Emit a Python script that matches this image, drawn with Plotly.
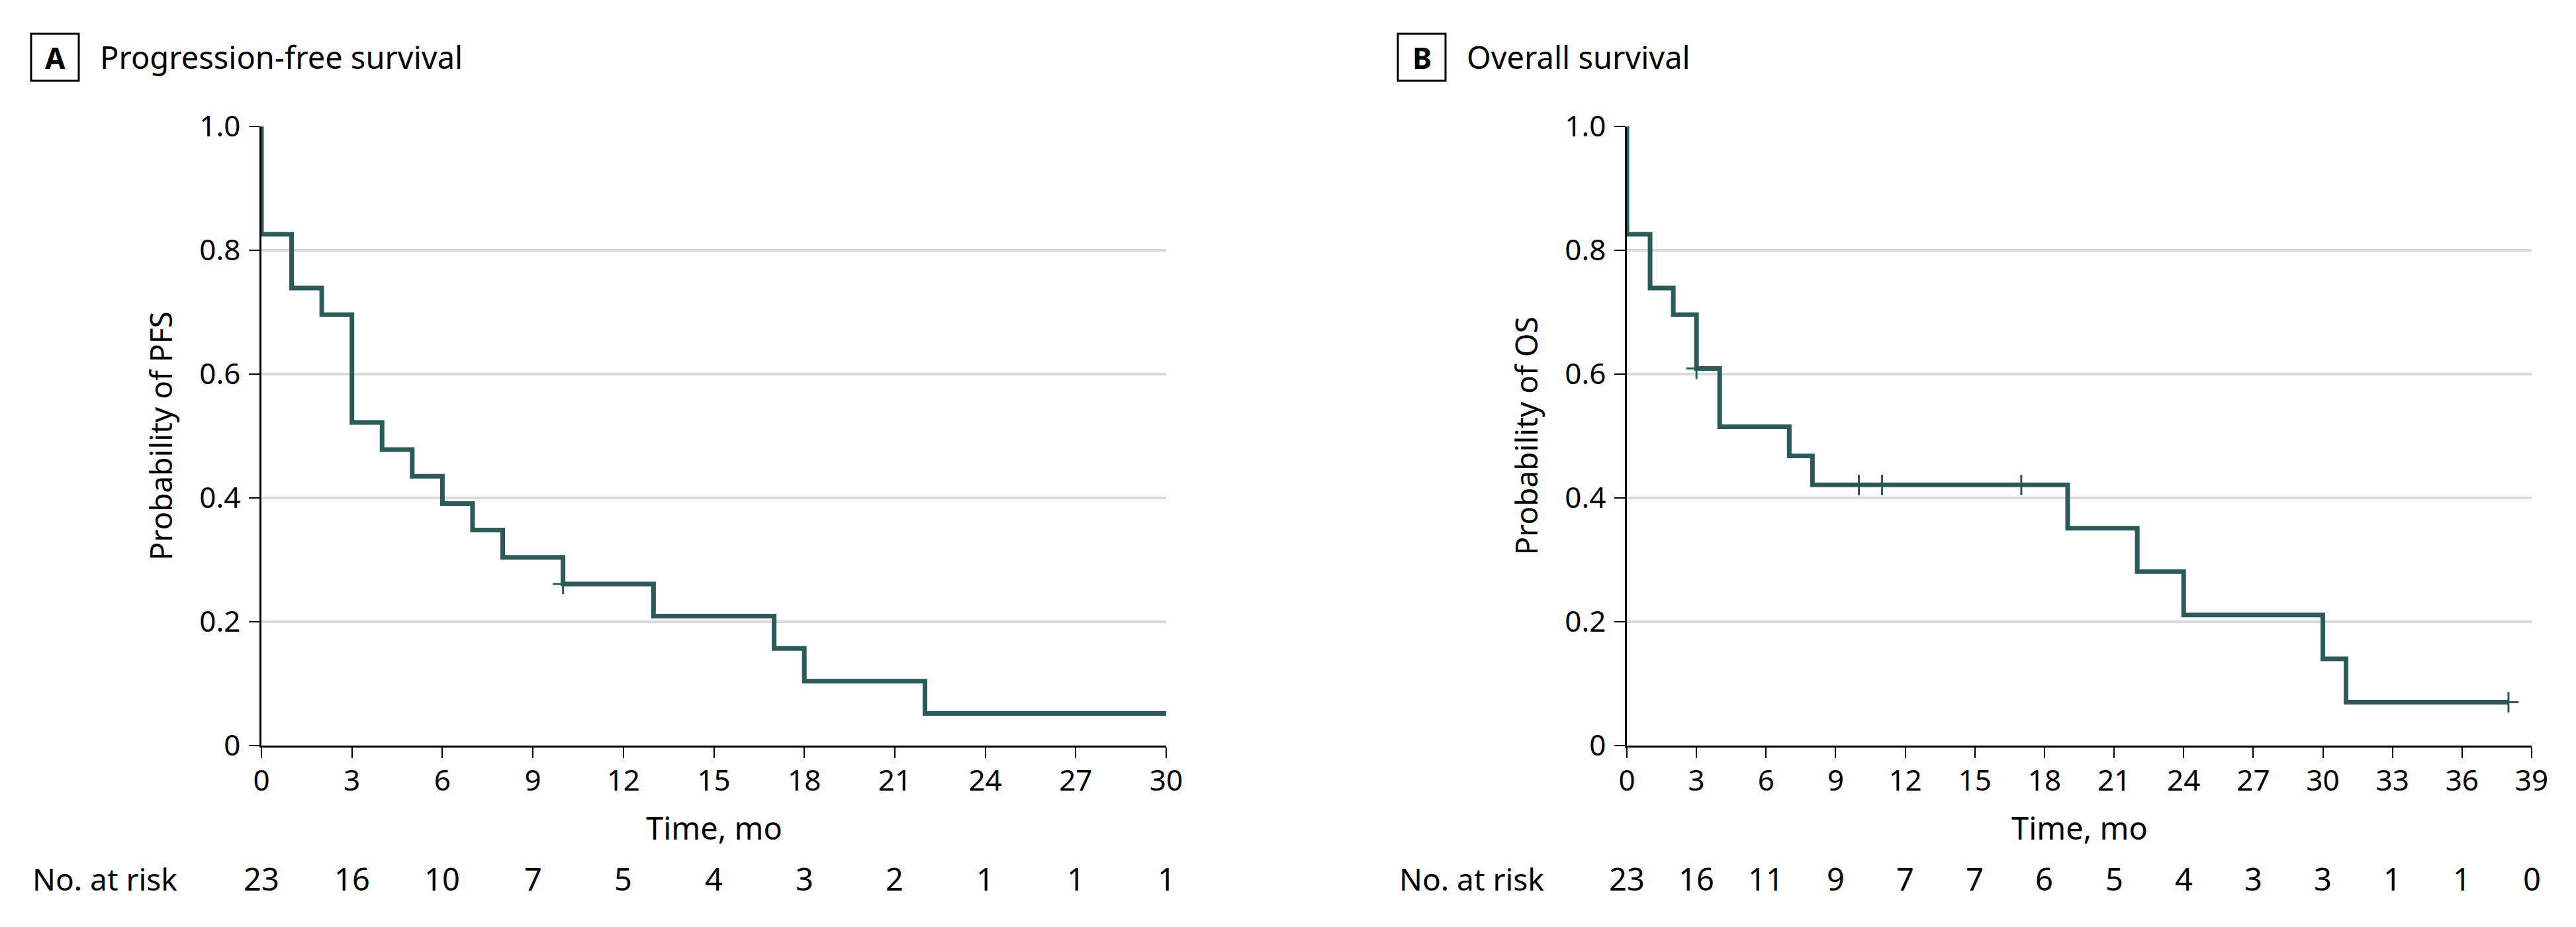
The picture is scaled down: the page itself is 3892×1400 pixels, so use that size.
import plotly.graph_objects as go

# ---------------- data ----------------
pfs_time = [0, 0, 1, 2, 3, 4, 5, 6, 7, 8, 10, 13, 17, 18, 22, 30]
pfs_surv = [1.0, 0.826, 0.739, 0.696, 0.522, 0.478, 0.435, 0.391, 0.348, 0.304,
            0.261, 0.209, 0.157, 0.104, 0.052, 0.052]
pfs_cens_time = [10]
pfs_cens_surv = [0.261]

os_time = [0, 0, 1, 2, 3, 4, 7, 8, 19, 22, 24, 30, 31, 38]
os_surv = [1.0, 0.826, 0.739, 0.696, 0.609, 0.515, 0.468, 0.421, 0.351, 0.281,
           0.211, 0.140, 0.070, 0.070]
os_cens_time = [3, 10, 11, 17, 38]
os_cens_surv = [0.609, 0.421, 0.421, 0.421, 0.070]

pfs_ticks = [0, 3, 6, 9, 12, 15, 18, 21, 24, 27, 30]
pfs_risk = [23, 16, 10, 7, 5, 4, 3, 2, 1, 1, 1]
os_ticks = [0, 3, 6, 9, 12, 15, 18, 21, 24, 27, 30, 33, 36, 39]
os_risk = [23, 16, 11, 9, 7, 7, 6, 5, 4, 3, 3, 1, 1, 0]

y_ticks = [0, 0.2, 0.4, 0.6, 0.8, 1.0]
y_ticktext = ["0", "0.2", "0.4", "0.6", "0.8", "1.0"]

# ---------------- style ----------------
W, H = 3892, 1400
LINE = "#2C5A58"
FONT = "Noto Sans"
TICK_SIZE = 44
LABEL_SIZE = 46
TITLE_SIZE = 47


def px(x):
    return x / W


def py(y):
    return 1 - y / H


A_X0, A_X1 = 395, 1762
B_X0, B_X1 = 2458, 3825
Y_TOP, Y_BOT = 191, 1126

fig = go.Figure()

fig.add_trace(go.Scatter(x=pfs_time, y=pfs_surv, mode="lines", line=dict(color=LINE, width=7, shape="hv"),
                         xaxis="x", yaxis="y", showlegend=False, hoverinfo="skip"))
fig.add_trace(go.Scatter(x=pfs_cens_time, y=pfs_cens_surv, mode="markers",
                         marker=dict(symbol="cross-thin-open", size=22, color=LINE,
                                     line=dict(color=LINE, width=3)),
                         xaxis="x", yaxis="y", showlegend=False, hoverinfo="skip", cliponaxis=False))
fig.add_trace(go.Scatter(x=os_time, y=os_surv, mode="lines", line=dict(color=LINE, width=7, shape="hv"),
                         xaxis="x2", yaxis="y2", showlegend=False, hoverinfo="skip"))
fig.add_trace(go.Scatter(x=os_cens_time, y=os_cens_surv, mode="markers",
                         marker=dict(symbol="cross-thin-open", size=22, color=LINE,
                                     line=dict(color=LINE, width=3)),
                         xaxis="x2", yaxis="y2", showlegend=False, hoverinfo="skip", cliponaxis=False))

xcommon = dict(showgrid=False, zeroline=False, showline=True, linecolor="black", linewidth=2.5,
               ticks="outside", ticklen=16, tickwidth=2, tickcolor="black",
               tickfont=dict(family=FONT, size=TICK_SIZE, color="black"), layer="below traces",
               ticklabelstandoff=-4, automargin=False)
ycommon = dict(range=[0, 1], tickvals=y_ticks, ticktext=y_ticktext,
               showgrid=True, gridcolor="#D9D9D9", gridwidth=4, zeroline=False,
               showline=True, linecolor="black", linewidth=2.5,
               ticks="outside", ticklen=16, tickwidth=2, tickcolor="black",
               tickfont=dict(family=FONT, size=TICK_SIZE, color="black"), layer="below traces",
               ticklabelstandoff=4, automargin=False,
               domain=[py(Y_BOT), py(Y_TOP)])

fig.update_layout(
    template="none",
    width=W, height=H, margin=dict(l=0, r=0, t=0, b=0, pad=0, autoexpand=False),
    paper_bgcolor="white", plot_bgcolor="white",
    xaxis=dict(xcommon, range=[0, 30], tickvals=pfs_ticks, domain=[px(A_X0), px(A_X1)], anchor="y"),
    yaxis=dict(ycommon, anchor="x"),
    xaxis2=dict(xcommon, range=[0, 39], tickvals=os_ticks, domain=[px(B_X0), px(B_X1)], anchor="y2"),
    yaxis2=dict(ycommon, anchor="x2"),
)

annotations = []
shapes = []


def panel(letter, title, box_x0, axis_x0, axis_x1, ytitle, xref, ticks, risk):
    # letter box
    shapes.append(dict(type="rect", xref="paper", yref="paper",
                       x0=px(box_x0), x1=px(box_x0 + 72), y0=py(122), y1=py(51),
                       line=dict(color="black", width=3), fillcolor="rgba(0,0,0,0)"))
    annotations.append(dict(text="<b>%s</b>" % letter, xref="paper", yref="paper",
                            x=px(box_x0 + 36), y=py(87), xanchor="center", yanchor="middle",
                            showarrow=False, font=dict(family=FONT, size=44, color="black")))
    annotations.append(dict(text=title, xref="paper", yref="paper",
                            x=px(box_x0 + 102), y=py(86), xanchor="left", yanchor="middle",
                            showarrow=False, font=dict(family=FONT, size=TITLE_SIZE, color="black")))
    # axis titles
    annotations.append(dict(text="Time, mo", xref="paper", yref="paper",
                            x=px((axis_x0 + axis_x1) / 2), y=py(1250), xanchor="center", yanchor="middle",
                            showarrow=False, font=dict(family=FONT, size=47, color="black")))
    annotations.append(dict(text=ytitle, xref="paper", yref="paper", textangle=-90,
                            x=px(axis_x0 - 154), y=py((Y_TOP + Y_BOT) / 2), xanchor="center", yanchor="middle",
                            showarrow=False, font=dict(family=FONT, size=LABEL_SIZE, color="black")))
    # number at risk
    annotations.append(dict(text="No. at risk", xref="paper", yref="paper",
                            x=px(box_x0), y=py(1327), xanchor="left", yanchor="middle",
                            showarrow=False, font=dict(family=FONT, size=LABEL_SIZE, color="black")))
    for t, r in zip(ticks, risk):
        annotations.append(dict(text=str(r), xref=xref, yref="paper",
                                x=t, y=py(1327), xanchor="center", yanchor="middle",
                                showarrow=False, font=dict(family=FONT, size=47, color="black")))


panel("A", "Progression-free survival", 47, A_X0, A_X1, "Probability of PFS", "x", pfs_ticks, pfs_risk)
panel("B", "Overall survival", 2112, B_X0, B_X1, "Probability of OS", "x2", os_ticks, os_risk)

fig.update_layout(annotations=annotations, shapes=shapes)

fig.write_html("out.html", config={"displayModeBar": False},
               post_script="document.body.style.margin='0px';")
